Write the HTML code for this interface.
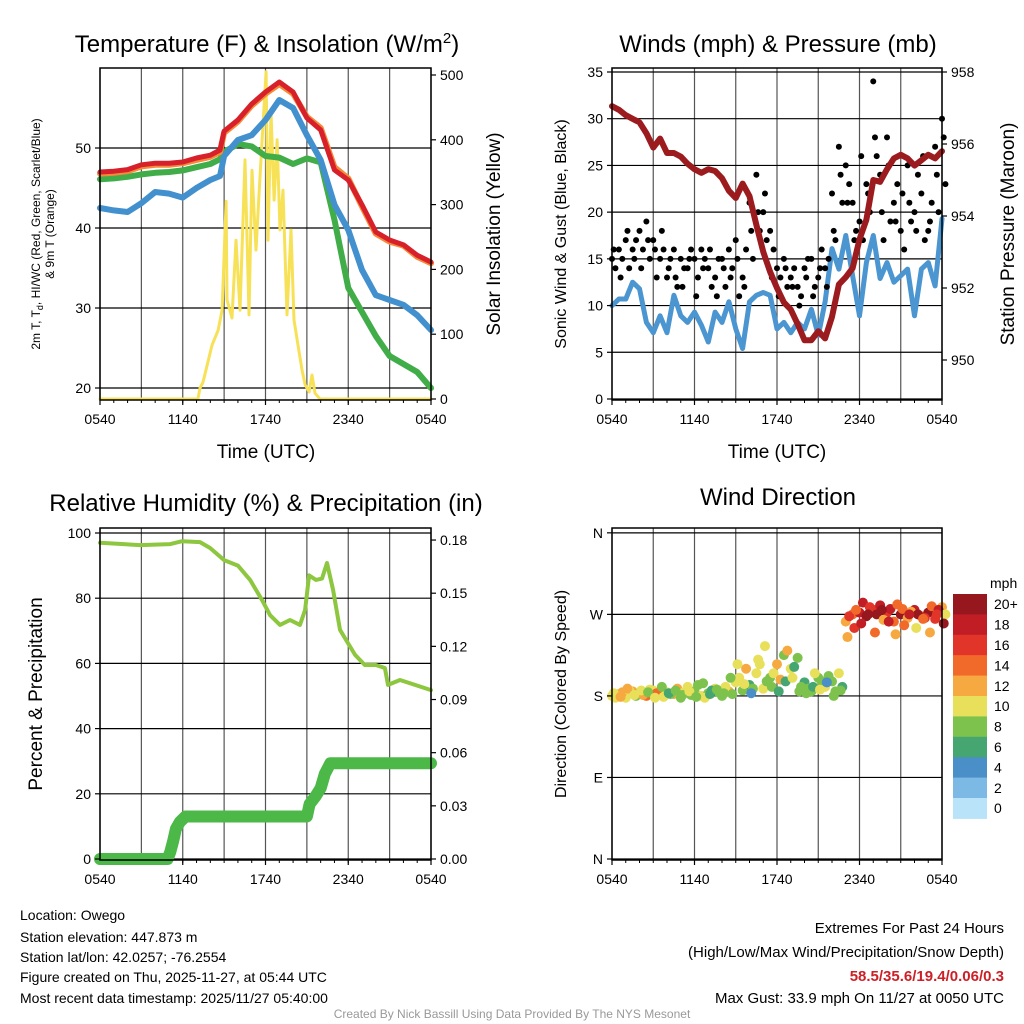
<!DOCTYPE html>
<html><head><meta charset="utf-8">
<style>
html,body{margin:0;padding:0;background:#fff;}
svg{display:block;font-family:"Liberation Sans",Arial,sans-serif;}
</style></head>
<body>
<svg id="chart" width="1024" height="1024" viewBox="0 0 1024 1024" xmlns="http://www.w3.org/2000/svg">
<rect x="0" y="0" width="1024" height="1024" fill="#fff"/>
<text x="267" y="52" font-size="24" text-anchor="middle">Temperature (F) &amp; Insolation (W/m<tspan dy="-9" font-size="15">2</tspan><tspan dy="9">)</tspan></text>
<text x="778" y="52" font-size="24" text-anchor="middle">Winds (mph) &amp; Pressure (mb)</text>
<text x="266" y="511" font-size="24" text-anchor="middle">Relative Humidity (%) &amp; Precipitation (in)</text>
<text x="778" y="505" font-size="24" text-anchor="middle">Wind Direction</text>
<text x="266" y="458" font-size="19" text-anchor="middle">Time (UTC)</text>
<text x="777" y="458" font-size="19" text-anchor="middle">Time (UTC)</text>
<text transform="translate(40,234) rotate(-90)" font-size="12" text-anchor="middle">2m T, T<tspan dy="3" font-size="9">d</tspan><tspan dy="-3">, HI/WC (Red, Green, Scarlet/Blue)</tspan></text>
<text transform="translate(54,234) rotate(-90)" font-size="12" text-anchor="middle">&amp; 9m T (Orange)</text>
<text transform="translate(500,234) rotate(-90)" font-size="19" text-anchor="middle">Solar Insolation (Yellow)</text>
<text transform="translate(566,234) rotate(-90)" font-size="16" text-anchor="middle">Sonic Wind &amp; Gust (Blue, Black)</text>
<text transform="translate(1014,234) rotate(-90)" font-size="19" text-anchor="middle">Station Pressure (Maroon)</text>
<text transform="translate(42,694) rotate(-90)" font-size="19" text-anchor="middle">Percent &amp; Precipitation</text>
<text transform="translate(566,694) rotate(-90)" font-size="16" text-anchor="middle">Direction (Colored By Speed)</text>
<g font-size="14">
<text x="20" y="920">Location: Owego</text>
<text x="20" y="942">Station elevation: 447.873 m</text>
<text x="20" y="962">Station lat/lon: 42.0257; -76.2554</text>
<text x="20" y="982">Figure created on Thu, 2025-11-27, at 05:44 UTC</text>
<text x="20" y="1003">Most recent data timestamp: 2025/11/27 05:40:00</text>
</g>
<g font-size="15" text-anchor="end">
<text x="1004" y="933">Extremes For Past 24 Hours</text>
<text x="1004" y="957">(High/Low/Max Wind/Precipitation/Snow Depth)</text>
<text x="1004" y="981" fill="#cc1f26" font-weight="bold">58.5/35.6/19.4/0.06/0.3</text>
<text x="1004" y="1003">Max Gust: 33.9 mph On 11/27 at 0050 UTC</text>
</g>
<text x="512" y="1018" font-size="12" fill="#999" text-anchor="middle">Created By Nick Bassill Using Data Provided By The NYS Mesonet</text>
</svg>
<script>
// ---------- data ----------
const xTickLabels = ['0540','1140','1740','2340','0540'];
const tempTime = [0,1,2,3,4,5,6,7,8,8.7,9,10,11,12,13,14,15,16,17,18,19,20,21,22,23,24];
const tempRed = [47,47.1,47.3,47.9,48.1,48.1,48.25,48.75,49.1,49.75,52.1,53.5,55.5,57,58.25,57,53.75,52.25,47.25,46,42.9,39.5,38.5,37.9,36.6,35.75];
const tempOrange = [46.8,46.9,47.1,47.7,47.9,47.9,48.1,48.5,48.9,49.5,51.9,53.3,55.3,56.8,58,56.8,53.9,52.5,47.6,46.2,42.7,39.3,38.3,37.8,36.4,35.6];
const tempGreen = [46.1,46.2,46.4,46.7,46.9,47,47.2,47.6,48,48.6,49.5,50.5,50.2,49,48.8,48,48.7,48.2,41,32.5,29.5,26.5,24,23,22,20];
const tempBlue = [42.5,42.2,42,43.1,44.5,44.3,43.8,45,46,46.5,49,51,51.6,53.5,56,55,51.6,48.5,42.9,39.75,34.75,31.6,31,30.4,29.1,27.25];
const tempTicks = [20,30,40,50];
const solarTime = [0,7.1,7.25,7.47,8.12,8.56,8.85,9.14,9.21,9.57,9.86,10.15,10.51,10.8,11.02,11.31,11.53,11.75,12.04,12.18,12.4,12.62,12.84,13.05,13.27,13.56,13.85,14.07,14.36,14.65,14.87,15.16,15.37,15.59,15.95,24];
const solarVal = [0,0,17,26,83,106,137,305,153,125,245,137,369,130,353,230,315,400,505,245,443,307,400,261,322,130,261,122,83,45,22,11,37,9,0,0];
const solarTicks = [0,100,200,300,400,500];
const windSust = [10,10.7,10.7,12.5,11.8,8.2,7.1,8.9,7.1,11.1,8.9,8.2,9.3,7.9,6.1,9.3,8.2,10.4,7.5,5.4,10.4,11.1,11.4,11.1,7.5,8.2,7.1,8.2,7.5,9.6,6.8,10.4,16.1,13.9,17.5,13.2,8.9,14.6,17.5,12.9,14.6,12.5,13.2,13.9,8.9,13.9,14.6,12.1,19.3];
const gustA = [15,16,17,16,18,19,17,15,13,16,15,14,15,16,14,13,15,16,17,13,21,24,20,18,14,15,13,12,14,15,13,14,22,27,25,21,19,23,34,24,28,21,18,25,20,22,18,27,30];
const gustB = [14,15,14,17,16,15,13,16,15,12,14,16,13,15,12,15,12,14,11,16,15,18,17,16,13,12,14,11,15,12,16,15,17,21,23,18,17,20,26,17,19,23,16,19,24,17,21,20,23];
const gustC = [16,13,18,15,14,17,16,18,14,13,12,15,11,14,16,11,14,13,15,12,18,20,22,13,11,14,12,10,13,11,14,12,18,24,21,17,26,22,28,20,25,19,22,21,18,26,19,24,28];
const pressure = [957.05,956.95,956.8,956.7,956.6,956.3,955.9,956.15,955.75,955.75,955.65,955.45,955.3,955.2,955.3,955.25,955.05,954.7,954.5,954.9,954.55,953.75,953.0,952.45,952.0,951.6,951.4,951.0,950.55,950.55,950.8,950.6,951.2,952.1,952.3,952.55,953.35,953.9,955.0,954.95,955.3,955.6,955.7,955.6,955.4,955.55,955.7,955.6,955.8];
const windTicks = [0,5,10,15,20,25,30,35];
const pressTicks = [950,952,954,956,958];
const rhTime = [0,2.9,5.1,5.95,7.25,7.98,9.0,10.0,10.88,11.75,12.33,13.05,13.78,14.5,14.87,15.16,15.66,16.1,16.46,16.9,17.4,17.84,18.5,19.2,20.0,20.66,20.88,21.75,22.84,24];
const rhVal = [97,96.3,96.6,97.5,97.2,95.4,91.7,90,85.6,79.4,74.8,71.8,73.3,71.8,76.4,87,85.6,86,90.8,82.5,70.3,67.2,62.6,59.5,59.5,58.6,53.4,54.9,53.4,51.8];
const rhTicks = [0,20,40,60,80,100];
const precipTime = [0,4.9,5.1,5.3,5.5,5.8,6.2,15,15.2,15.6,16,16.3,16.7,24];
const precipVal = [0,0,0.004,0.01,0.017,0.021,0.024,0.024,0.031,0.035,0.04,0.048,0.054,0.054];
const precipTicks = [0,0.03,0.06,0.09,0.12,0.15,0.18];
const dirA = [180,182,178,185,183,180,186,181,184,182,178,190,185,180,183,188,180,185,195,186,192,205,188,200,215,225,210,222,195,185,200,190,196,205,262,270,272,268,275,280,272,262,270,266,275,268,272,265,278];
const speedA = [10,11,9,12,8,13,10,11,9,12,8,10,7,9,8,10,7,11,9,8,6,10,9,8,11,7,9,8,6,7,8,9,7,9,12,14,17,19,16,18,15,13,19,12,18,14,20,16,12];
const dirB = [178,184,186,180,181,187,183,179,182,188,184,181,192,178,186,184,190,182,200,210,188,215,196,205,198,230,212,190,188,205,196,202,185,190,268,275,283,278,270,264,276,281,258,273,270,266,279,275,270];
const speedB = [9,12,10,8,11,9,13,10,8,11,9,7,8,10,6,8,9,7,10,11,8,9,7,10,12,11,6,8,7,9,8,7,8,6,16,13,18,15,20,12,17,14,13,11,19,15,13,17,10];
const dirC = [183,179,188,181,186,184,178,190,183,186,181,185,179,194,182,187,183,200,215,193,183,220,235,190,185,196,200,185,183,190,187,195,180,186,245,255,260,270,250,275,262,248,276,270,255,265,250,270,260];
const speedC = [10,12,11,10,9,8,10,7,6,8,8,9,7,8,6,7,8,8,10,9,3,10,9,7,6,5,9,8,7,6,9,4,8,7,12,16,18,19,13,20,17,12,14,18,10,13,12,16,19];
const dirTicks = [0,90,180,270,360];
const dirLabels = ['N','E','S','W','N'];
const speedLevels = ['0','2','4','6','8','10','12','14','16','18','20+'];
const speedColors = ['#b8e3f8','#7db9e5','#4a8fc7','#45a671','#7dc24d','#e8e05a','#f7a941','#f26a2a','#e2352a','#c01d25','#96171d'];

// ---------- helpers ----------
const NS='http://www.w3.org/2000/svg';
const svg=document.getElementById('chart');
function el(tag,attrs,parent){const e=document.createElementNS(NS,tag);for(const k in attrs)e.setAttribute(k,attrs[k]);(parent||svg).appendChild(e);return e;}
const P1={l:100,r:431,t:68,b:400}, P2={l:612,r:942,t:68,b:400}, P3={l:100,r:431,t:528,b:860}, P4={l:612,r:942,t:528,b:860};
function xs(P,h){return P.l+h/24*(P.r-P.l);}
const yTemp=v=>388-(v-20)*8;
const ySolar=v=>399-v*0.648;
const yWind=v=>399-v*9.343;
const yPress=v=>72+(958-v)*36;
const yRH=v=>859-v*3.26;
const yPrecip=v=>859-v*1772;
const yDir=v=>859-v*0.906;

function frame(P,name,hGridVals,yf){
  const g=el('g',{});
  
  
  for(let i=0;i<=8;i++){const x=P.l+i*(P.r-P.l)/8;
    el('line',{x1:x,x2:x,y1:P.t,y2:P.b,stroke:'#555','stroke-width':1.2},g);}
  hGridVals.forEach(v=>{const y=yf(v);el('line',{x1:P.l,x2:P.r,y1:y,y2:y,stroke:'#000','stroke-width':1.2},g);});
  xTickLabels.forEach((lab,i)=>{const x=P.l+i*(P.r-P.l)/4;
    el('line',{x1:x,x2:x,y1:P.b,y2:P.b+5,stroke:'#000','stroke-width':1.2},g);
    const t=el('text',{x:x,y:P.b+24,'font-size':14,'text-anchor':'middle'},g);t.textContent=lab;
    
    });
  for(let i=0;i<=24;i++){const x=xs(P,i);el('line',{x1:x,x2:x,y1:P.b,y2:P.b+3,stroke:'#000','stroke-width':1},g);}
  return g;
}
function border(P,name){const r=el('rect',{x:P.l,y:P.t,width:P.r-P.l,height:P.b-P.t,fill:'none',stroke:'#000','stroke-width':1.5});
  
  }
function yTicks(P,vals,labels,yf,side){
  vals.forEach((v,i)=>{const y=yf(v);const x=side==='l'?P.l:P.r;const d=side==='l'?-5:5;
    el('line',{x1:x,x2:x+d,y1:y,y2:y,stroke:'#000','stroke-width':1.2});
    const t=el('text',{x:x+(side==='l'?-9:9),y:y+5,'font-size':14,'text-anchor':side==='l'?'end':'start'});
    t.textContent=labels[i];
    
    });
}
function line(P,times,vals,yf,color,w,name){
  const pts=times.map((h,i)=>xs(P,h).toFixed(1)+','+yf(vals[i]).toFixed(1)).join(' ');
  const p=el('polyline',{points:pts,fill:'none',stroke:color,'stroke-width':w,'stroke-linejoin':'round','stroke-linecap':'round'});
  
  
  return p;
}
const half=windSust.map((_,i)=>i*0.5);

// ---------- panel 1 ----------
frame(P1,'temp',tempTicks,yTemp);
line(P1,solarTime,solarVal,ySolar,'#f7e157',3,'solar-line');
line(P1,tempTime,tempGreen,yTemp,'#41ad49',6,'dewpoint-line');
line(P1,tempTime,tempBlue,yTemp,'#4390cf',6,'windchill-line');
line(P1,tempTime,tempOrange,yTemp,'#f58a3a',6,'temp-9m-line');
line(P1,tempTime,tempRed,yTemp,'#d7202a',5,'temp-2m-line');
border(P1,'temp');
yTicks(P1,tempTicks,tempTicks.map(String),yTemp,'l');
yTicks(P1,solarTicks,solarTicks.map(String),ySolar,'r');

// ---------- panel 2 ----------
frame(P2,'wind',windTicks,yWind);
line(P2,half,windSust,yWind,'#4b95d1',5,'sustained-wind-line');
[[gustA,0],[gustB,0.25],[gustC,0.125]].forEach(([arr,off])=>arr.forEach((v,i)=>{
  const c=el('circle',{cx:xs(P2,half[i]+off),cy:yWind(v),r:3,fill:'#000'});
  
  }));
line(P2,half,pressure,yPress,'#9b1b1e',6,'pressure-line');
border(P2,'wind');
yTicks(P2,windTicks,windTicks.map(String),yWind,'l');
yTicks(P2,pressTicks,pressTicks.map(String),yPress,'r');

// ---------- panel 3 ----------
frame(P3,'rh',rhTicks,yRH);
line(P3,rhTime,rhVal,yRH,'#8dc63f',4,'rh-line');
line(P3,precipTime,precipVal,yPrecip,'#4cb848',12,'precip-line');
border(P3,'rh');
yTicks(P3,rhTicks,rhTicks.map(String),yRH,'l');
yTicks(P3,precipTicks,precipTicks.map(v=>v.toFixed(2)),yPrecip,'r');

// ---------- panel 4 ----------
frame(P4,'wdir',dirTicks,yDir);
function spdColor(s){return speedColors[Math.min(10,Math.max(0,Math.round(s/2)))];}
[[dirA,speedA,0],[dirB,speedB,0.25],[dirC,speedC,0.125]].forEach(([d,s,off])=>d.forEach((v,i)=>{
  const c=el('circle',{cx:xs(P4,i*0.5+off),cy:yDir(v),r:5,fill:spdColor(s[i])});
  
  }));
border(P4,'wdir');
yTicks(P4,dirTicks,dirLabels,yDir,'l');
const cb=el('g',{});


const cbTop=594, cbH=20.4;
const ut=el('text',{x:990,y:588,'font-size':14},cb);ut.textContent='mph';
speedLevels.forEach((lab,i)=>{const k=10-i;const y=cbTop+i*cbH;
  el('rect',{x:953,y:y,width:34,height:cbH+0.5,fill:speedColors[k]},cb);
  const t=el('text',{x:994,y:y+cbH/2+5,'font-size':14},cb);t.textContent=speedLevels[k];
  
  });
</script>
</body></html>
